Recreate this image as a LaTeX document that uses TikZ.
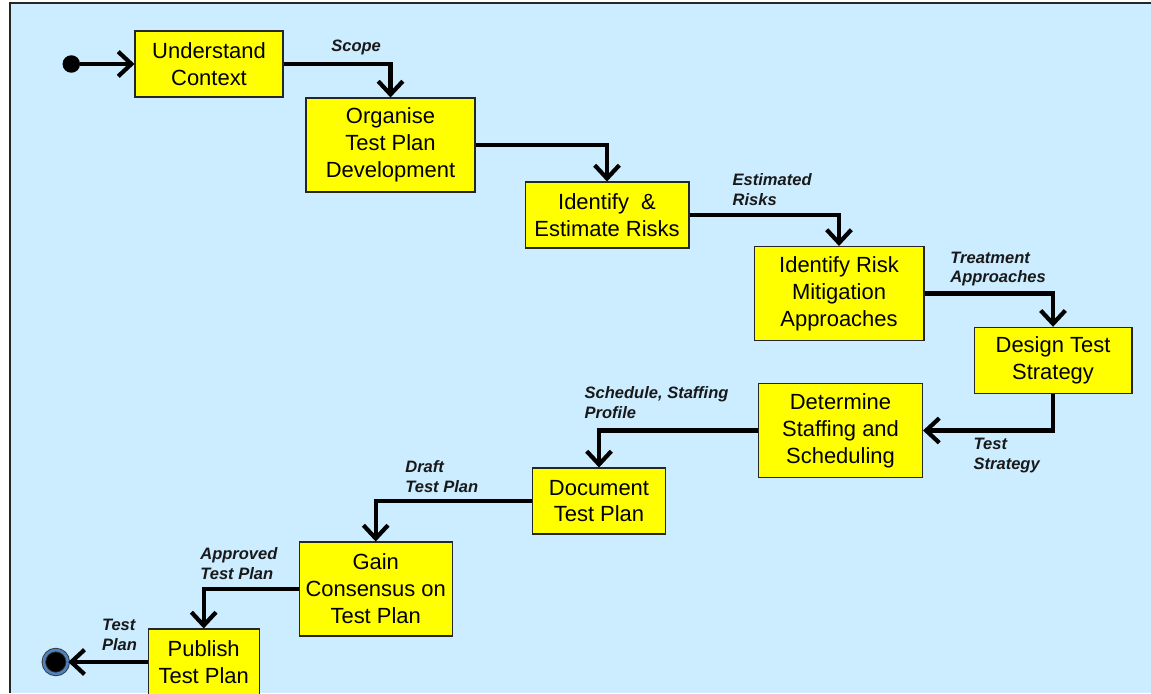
\documentclass[tikz,border=0pt]{standalone}
\usepackage{fontspec}
\setmainfont{Liberation Sans}
\usetikzlibrary{arrows.meta}
\definecolor{slideblue}{RGB}{204,236,255}
\definecolor{boxyellow}{RGB}{255,255,0}
\definecolor{endblue}{RGB}{79,129,189}

\begin{document}
\begin{tikzpicture}[x=0.02cm,y=-0.02cm,
	activity/.style={draw=black!85,line width=0.6pt,fill=boxyellow,align=center,inner sep=0pt,
		font=\fontsize{12.5}{15.3}\selectfont},
	short/.style={minimum height=1.32cm},
	tall/.style={minimum height=1.88cm},
	flow/.style={line width=2.4pt,-{Straight Barb[length=7.5pt,width=14pt]}},
	flowlabel/.style={anchor=west,align=left,inner sep=0pt,text=black!90,
		font=\fontsize{9.4}{11.3}\selectfont\bfseries\itshape}]
		\useasboundingbox (0,0) rectangle (1151,693);
		\fill [white] (0,0) rectangle (1151,693);
		\fill [slideblue] (10,3) rectangle (1151,693);
		\draw [black!85,line width=1.2pt] (10,693)--(10,3)--(1151,3);

		\node [activity,short,minimum width=2.96cm] (context) at (209,64) {Understand\\Context};
		\node [activity,tall,minimum width=3.38cm] (organise) at (390.5,145) {Organise\\Test Plan\\Development};
		\node [activity,short,minimum width=3.28cm] (risks) at (607,215) {Identify\ \ \&\\Estimate Risks};
		\node [activity,tall,minimum width=3.40cm] (mitigation) at (839,293.5) {Identify Risk\\Mitigation\\Approaches};
		\node [activity,short,minimum width=3.16cm] (strategy) at (1053,360.3) {Design Test\\Strategy};
		\node [activity,tall,minimum width=3.28cm] (staffing) at (840.5,430.5) {Determine\\Staffing and\\Scheduling};
		\node [activity,short,minimum width=2.66cm] (document) at (599,501) {Document\\Test Plan};
		\node [activity,tall,minimum width=3.06cm] (consensus) at (375.7,589) {Gain\\Consensus on\\Test Plan};
		\node [activity,short,minimum width=2.22cm] (publish) at (203.7,662) {Publish\\Test Plan};

		\node [circle,fill=black,inner sep=0pt,minimum size=0.35cm] (start) at (71.3,64) {};
		\node [circle,fill=black,draw=black!80,line width=0.5pt,double=endblue,double distance=1.5pt,
			inner sep=0pt,minimum size=0.48cm] (finish) at (55.8,662) {};

		\draw [flow] (start)--(context);
		\draw [flow] (context) -| (organise);
		\draw [flow] (organise) -| (risks);
		\draw [flow] (risks) -| (mitigation);
		\draw [flow] (mitigation) -| (strategy);
		\draw [flow] (strategy) |- (staffing);
		\draw [flow] (staffing) -| (document);
		\draw [flow] (document) -| (consensus);
		\draw [flow] (consensus) -| (publish);
		\draw [flow] (publish)--(finish);

		\node [flowlabel] (scopelabel) at (331,47.3) {Scope};
		\node [flowlabel] (risklabel) at (732.3,190) {Estimated\\Risks};
		\node [flowlabel] (treatlabel) at (950,269) {Treatment\\Approaches};
		\node [flowlabel] (strategylabel) at (973.3,455.3) {Test\\Strategy};
		\node [flowlabel] (schedlabel) at (584.3,403) {Schedule, Staffing\\Profile};
		\node [flowlabel] (draftlabel) at (405,477) {Draft\\Test Plan};
		\node [flowlabel] (approvedlabel) at (200,563.3) {Approved\\Test Plan};
		\node [flowlabel] (planlabel) at (101.7,635) {Test\\Plan};

	\end{tikzpicture}
\end{document}
